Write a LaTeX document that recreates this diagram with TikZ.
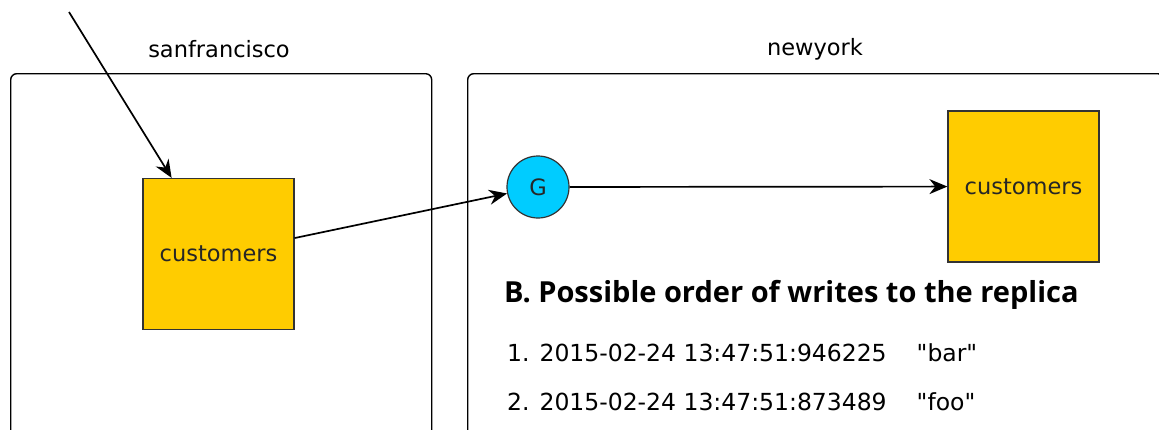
\documentclass[tikz,border=0pt]{standalone}
\usepackage{fontspec}
\setmainfont{DejaVu Sans}
\newfontfamily\headfont{Open Sans}
\usetikzlibrary{positioning,arrows.meta}
\definecolor{tablegold}{HTML}{FFCC00}
\definecolor{gatecyan}{HTML}{00CCFF}

\begin{document}
\begin{tikzpicture}[x=1pt, y=-1pt, every node/.style={font=\fontsize{22.5}{27}\selectfont},
  region/.style={draw, line width=1.4pt, rounded corners=6pt, minimum height=420pt, anchor=north west},
  table/.style={draw=black!80, line width=1.2pt, fill=tablegold, text=black!85, minimum width=151pt, minimum height=151pt},
  link/.style={-{Stealth[length=18pt,width=15pt]}, line width=1.7pt}]
\useasboundingbox (0,0) rectangle (1159,429);
\clip (0,0) rectangle (1159,429);
% data centres
\node[region, minimum width=421pt] (sf) at (10,73) {};
\node[region, minimum width=696pt] (ny) at (467,73) {};
\node (sfname) at (219,49) {sanfrancisco};
\node (nyname) at (815,49) {newyork};
% tables and gateway
\node[table] (sfcust) at (218.5,254) {customers};
\node[table] (nycust) at (1023.5,186.5) {customers};
\node[draw=black!80, circle, line width=1.2pt, fill=gatecyan, text=black!85, minimum size=62pt, inner sep=0pt] (gate) at (538,187) {G};
\coordinate (client) at (69,12);
\draw[link] (client) -- (sfcust);
\draw[link] (sfcust) -- (gate);
\draw[link] (gate) -- (nycust);
% replica writes
\node[anchor=base west, inner sep=0pt, font=\headfont\bfseries\fontsize{29}{34}\selectfont] (heading) at (504,302) {B. Possible order of writes to the replica};
\node[anchor=base west, inner sep=0pt, font=\fontsize{23.5}{28}\selectfont] (write1) at (507,361) {1. 2015-02-24 13:47:51:946225\hspace{30pt}\textquotedbl bar\textquotedbl};
\node[anchor=base west, inner sep=0pt, font=\fontsize{23.5}{28}\selectfont] (write2) at (507,410) {2. 2015-02-24 13:47:51:873489\hspace{30pt}\textquotedbl foo\textquotedbl};
\end{tikzpicture}
\end{document}
